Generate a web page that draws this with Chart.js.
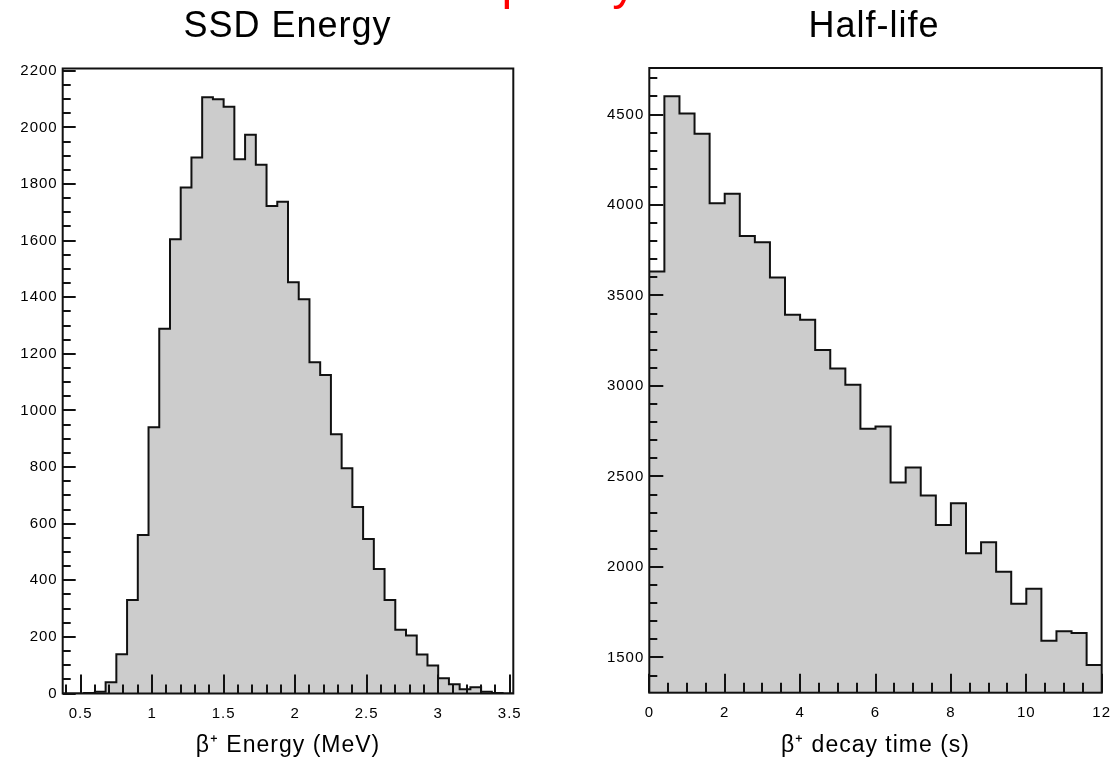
<!DOCTYPE html>
<html><head><meta charset="utf-8">
<script src="https://cdn.jsdelivr.net/npm/chart.js@4.4.1/dist/chart.umd.min.js"></script>
<style>
html,body{margin:0;padding:0;background:#fff;overflow:hidden;width:1111px;height:758px;position:relative;}
#c1{position:absolute;left:0;top:0;}
#c2{position:absolute;left:600px;top:0;}
#banner{position:absolute;left:0;top:-41px;width:1100px;text-align:center;font:48px "Liberation Sans",Arial,sans-serif;line-height:48px;letter-spacing:2px;color:#ff0000;white-space:nowrap;z-index:5;}
</style></head><body>
<div id="banner">Good quality data</div>
<canvas id="c1" width="575" height="758"></canvas>
<canvas id="c2" width="548" height="758"></canvas>
<script>
// ---------- DATA ----------
const bannerText = 'Good quality data';

const energyTitle = 'SSD Energy';
const energyAxisTitle = 'β⁺ Energy (MeV)';
const energyBinLow = 0.375;
const energyBinWidth = 0.075;
const energyCounts = [0, 0, 2, 6, 40, 139, 330, 560, 941, 1289, 1605, 1788, 1894, 2106, 2099, 2073,
  1887, 1974, 1868, 1722, 1737, 1453, 1393, 1170, 1125, 916, 796, 659, 546, 440, 330, 225, 205,
  138, 99, 54, 33, 15, 22, 6, 2, 0];
const energyXRange = [0.375, 3.525];
const energyYRange = [0, 2208];
const energyXTicks = [0.5, 1, 1.5, 2, 2.5, 3, 3.5];
const energyYTicks = [0, 200, 400, 600, 800, 1000, 1200, 1400, 1600, 1800, 2000, 2200];

const decayTitle = 'Half-life';
const decayAxisTitle = 'β⁺ decay time (s)';
const decayBinLow = 0;
const decayBinWidth = 0.4;
const decayCounts = [3633, 4601, 4506, 4393, 4009, 4062, 3828, 3794, 3600, 3394, 3366, 3199, 3096,
  3006, 2764, 2776, 2466, 2549, 2395, 2231, 2352, 2076, 2137, 1973, 1796, 1879, 1592, 1644, 1635, 1458];
const decayXRange = [0, 12];
const decayYRange = [1305, 4757];
const decayXTicks = [0, 2, 4, 6, 8, 10, 12];
const decayYTicks = [1500, 2000, 2500, 3000, 3500, 4000, 4500];

// ---------- RENDERING ----------
document.getElementById('banner').textContent = bannerText;
const FONT = '"Liberation Sans", Arial, Helvetica, sans-serif';
const INK = '#111';

function stepsBetween(lo, hi, step) {
  const out = [];
  const start = Math.ceil(lo / step - 1e-9) * step;
  for (let v = start; v <= hi + 1e-9; v += step) out.push(+v.toFixed(6));
  return out;
}

const spacingPlugin = {
  id: 'spacing',
  beforeDraw(chart) { chart.ctx.letterSpacing = '1px'; }
};

const framePlugin = {
  id: 'frame',
  afterDatasetsDraw(chart, args, o) {
    const {ctx, chartArea: a, scales: {x, y}} = chart;
    ctx.save();
    ctx.strokeStyle = INK;
    ctx.lineWidth = 2;
    ctx.beginPath();
    const xs = [[o.xMinor, o.xMinorLen], [o.xMajor, o.xMajorLen]];
    xs.forEach(([vals, len]) => vals.forEach(v => {
      const px = Math.round(x.getPixelForValue(v));
      ctx.moveTo(px, a.bottom); ctx.lineTo(px, a.bottom - len);
    }));
    const ys = [[o.yMinor, o.yMinorLen], [o.yMajor, o.yMajorLen]];
    ys.forEach(([vals, len]) => vals.forEach(v => {
      const py = Math.round(y.getPixelForValue(v));
      ctx.moveTo(a.left, py); ctx.lineTo(a.left + len, py);
    }));
    ctx.stroke();
    ctx.strokeRect(a.left, a.top, a.right - a.left, a.bottom - a.top);
    ctx.restore();
  }
};

function makeHist(id, c) {
  const pts = c.counts.map((v, i) => ({x: c.low + i * c.width, y: v}));
  pts.push({x: c.low + c.counts.length * c.width, y: c.counts[c.counts.length - 1]});
  return new Chart(document.getElementById(id), {
    type: 'line',
    data: {datasets: [{
      data: pts, stepped: 'before', fill: 'start',
      backgroundColor: '#cccccc', borderColor: INK, borderWidth: 2,
      pointRadius: 0, tension: 0
    }]},
    options: {
      responsive: false, animation: false, devicePixelRatio: 1,
      layout: {padding: 0},
      plugins: {
        legend: {display: false}, tooltip: {enabled: false},
        title: {display: true, text: c.title, color: '#000',
          font: {family: FONT, size: 36, weight: 'normal', lineHeight: 1},
          padding: {top: 9, bottom: c.top - 45}},
        frame: c.frame
      },
      scales: {
        x: {
          type: 'linear', min: c.xRange[0], max: c.xRange[1],
          grid: {display: false, drawTicks: false}, border: {display: false},
          ticks: {color: '#000', font: {family: FONT, size: 15}, padding: 11,
            maxRotation: 0, autoSkip: false, callback: v => String(v)},
          afterBuildTicks: s => { s.ticks = c.xTicks.map(v => ({value: v})); },
          afterFit: s => { s.height = 758 - c.bottom; },
          title: {display: true, text: c.xTitle, color: '#000',
            font: {family: FONT, size: 23, weight: 'normal', lineHeight: 1},
            padding: {top: 0, bottom: 1}}
        },
        y: {
          type: 'linear', min: c.yRange[0], max: c.yRange[1],
          grid: {display: false, drawTicks: false}, border: {display: false},
          ticks: {color: '#000', font: {family: FONT, size: 15}, padding: 5,
            autoSkip: false, callback: v => String(v)},
          afterBuildTicks: s => { s.ticks = c.yTicks.map(v => ({value: v})); },
          afterFit: s => { s.width = c.left; }
        },
        yRight: {
          type: 'linear', position: 'right', min: c.yRange[0], max: c.yRange[1],
          grid: {display: false, drawTicks: false}, border: {display: false},
          ticks: {display: false},
          afterFit: s => { s.width = c.padRight; }
        }
      }
    },
    plugins: [spacingPlugin, framePlugin]
  });
}

makeHist('c1', {
  title: energyTitle, xTitle: energyAxisTitle,
  counts: energyCounts, low: energyBinLow, width: energyBinWidth,
  xRange: energyXRange, yRange: energyYRange, xTicks: energyXTicks, yTicks: energyYTicks,
  left: 62.7, padRight: 575 - 513.3, top: 68.5, bottom: 693.5,
  frame: {
    xMajor: energyXTicks, xMajorLen: 19,
    xMinor: stepsBetween(energyXRange[0], energyXRange[1], 0.1), xMinorLen: 9,
    yMajor: energyYTicks, yMajorLen: 13,
    yMinor: stepsBetween(energyYRange[0], energyYRange[1], 50), yMinorLen: 8
  }
});

makeHist('c2', {
  title: decayTitle, xTitle: decayAxisTitle,
  counts: decayCounts, low: decayBinLow, width: decayBinWidth,
  xRange: decayXRange, yRange: decayYRange, xTicks: decayXTicks, yTicks: decayYTicks,
  left: 49.3, padRight: 548 - 501.7, top: 68, bottom: 692.7,
  frame: {
    xMajor: decayXTicks, xMajorLen: 19,
    xMinor: stepsBetween(decayXRange[0], decayXRange[1], 0.5), xMinorLen: 10,
    yMajor: decayYTicks, yMajorLen: 14,
    yMinor: stepsBetween(decayYRange[0], decayYRange[1], 100), yMinorLen: 8
  }
});
</script>
</body></html>
